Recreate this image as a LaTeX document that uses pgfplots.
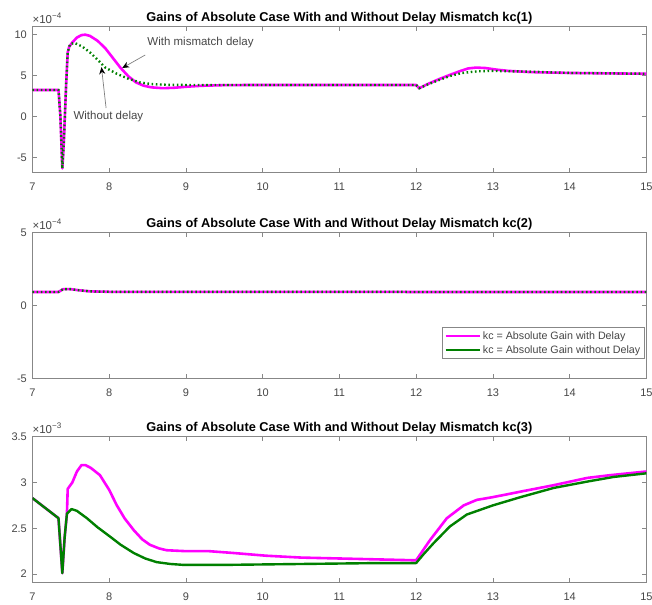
\documentclass[border=0pt]{standalone}
\usepackage{fontspec}
\setmainfont{Liberation Sans}
\usepackage{pgfplots}
\pgfplotsset{compat=1.18}
\usetikzlibrary{arrows.meta}

\definecolor{kcMag}{RGB}{255,0,255}
\definecolor{kcGreen}{RGB}{0,128,0}
\definecolor{axgray}{RGB}{135,135,135}
\definecolor{lblgray}{RGB}{70,70,70}

\pgfplotsset{
  panel/.style={
    scale only axis, width=614pt, height=145.6pt,
    anchor=south west,
    clip mode=individual,
    xmin=7, xmax=15, xtick={7,...,15},
    axis line style={axgray, line width=0.7pt},
    tick style={axgray, line width=0.7pt},
    major tick length=4.5pt,
    tick align=inside,
    ticklabel style={font=\fontsize{11}{13}\selectfont, text=lblgray},
    xticklabel style={anchor=base, yshift=-18.2pt},
    yticklabel style={xshift=-2pt},
    /pgf/number format/assume math mode=true,
    scaled ticks=false,
    every axis title/.style={at={(0.5,1)}, anchor=base, yshift=4.8pt,
                 font=\bfseries\fontsize{12.8}{15}\selectfont},
  },
  withdelay/.style={kcMag, line width=2.6pt, line join=round},
  nodelay/.style={kcGreen, line width=2.4pt, dash pattern=on 1.6pt off 2.6pt},
  nodelaysolid/.style={kcGreen, line width=2.4pt, line join=round},
}

% exponent label shown above the upper-left corner of each panel
\newcommand{\expolabel}[1]{%
  \node[anchor=base west, inner sep=0pt, text=lblgray,
        font=\fontsize{11.5}{13}\selectfont]
    at (rel axis cs:0,1) [yshift=3.5pt] {×10\textsuperscript{#1}};}

\begin{document}
\begin{tikzpicture}
\useasboundingbox (0,0) rectangle (652pt,604pt);

% ---------------- kc(1), values in units of 1e-4 ----------------
\begin{axis}[panel, at={(32.4pt,431.7pt)},
  ymin=-6.77, ymax=10.92, ytick={-5,0,5,10},
  title={Gains of Absolute Case With and Without Delay Mismatch kc(1)}]
\addplot[withdelay] coordinates {
 (7,3.23) (7.34,3.23) (7.365,0) (7.39,-6.3) (7.41,-3) (7.44,4) (7.46,7.8)
 (7.48,8.5) (7.52,9.0) (7.58,9.6) (7.64,9.9) (7.69,9.95) (7.75,9.8)
 (7.85,9.2) (7.95,8.3) (8.05,7.1) (8.15,5.9) (8.25,4.9) (8.35,4.15)
 (8.45,3.75) (8.55,3.55) (8.7,3.45) (8.85,3.5) (9.0,3.62) (9.2,3.74)
 (9.5,3.82) (10,3.84) (12,3.84) (12.04,3.44) (12.15,3.95) (12.3,4.55)
 (12.45,5.1) (12.58,5.55) (12.68,5.85) (12.78,5.95) (12.9,5.9)
 (13.05,5.7) (13.2,5.55) (13.5,5.4) (14,5.3) (14.5,5.25) (15,5.2)};
\addplot[nodelay] coordinates {
 (7,3.23) (7.34,3.23) (7.365,0) (7.39,-6.3) (7.41,-3) (7.44,4) (7.46,7.8)
 (7.49,8.8) (7.55,8.95) (7.65,8.5) (7.75,7.8) (7.85,6.9) (7.95,5.95)
 (8.1,5.2) (8.25,4.6) (8.4,4.15) (8.55,3.95) (8.75,3.86) (9,3.84)
 (12,3.84) (12.04,3.44) (12.15,3.9) (12.3,4.45) (12.45,4.95) (12.6,5.3)
 (12.8,5.5) (13.0,5.55) (13.5,5.45) (14,5.3) (14.5,5.25) (15,5.2)};
\expolabel{−4}
\node[text=lblgray, font=\fontsize{11.5}{13}\selectfont]
  at (axis cs:9.19,8.94) {With mismatch delay};
\draw[gray, line width=0.7pt, -{Stealth[length=7pt,width=6pt,color=black]}]
  (axis cs:8.47,7.48) -- (axis cs:8.17,5.9);
\node[text=lblgray, font=\fontsize{11.5}{13}\selectfont]
  at (axis cs:7.99,0.0) {Without delay};
\draw[gray, line width=0.7pt, -{Stealth[length=7pt,width=6pt,color=black]}]
  (axis cs:7.96,1.04) -- (axis cs:7.9,6.0);
\end{axis}

% ---------------- kc(2), values in units of 1e-4 ----------------
\begin{axis}[panel, at={(32.4pt,225.7pt)},
  ymin=-5, ymax=5, ytick={-5,0,5},
  title={Gains of Absolute Case With and Without Delay Mismatch kc(2)},
  legend style={at={(rel axis cs:0.997,0.132)}, anchor=south east,
    draw=axgray, line width=0.6pt, fill=white,
    font=\fontsize{10.7}{12}\selectfont, text=lblgray,
    inner sep=2pt, row sep=1pt, cells={anchor=west}},
  legend image code/.code={\draw[#1] (0pt,0pt) -- (34pt,0pt);}]
\addplot[withdelay, forget plot] coordinates {
 (7,0.93) (7.34,0.93) (7.4,1.12) (7.5,1.12) (7.6,1.05) (7.75,0.97)
 (8,0.94) (12,0.93) (15,0.93)};
\addplot[nodelay, forget plot] coordinates {
 (7,0.93) (7.34,0.93) (7.4,1.12) (7.5,1.12) (7.6,1.05) (7.75,0.97)
 (8,0.94) (12,0.93) (15,0.93)};
\addlegendimage{kcMag, line width=2.6pt}
\addlegendentry{kc = Absolute Gain with Delay}
\addlegendimage{kcGreen, line width=2.6pt}
\addlegendentry{kc = Absolute Gain without Delay}
\expolabel{−4}
\end{axis}

% ---------------- kc(3), values in units of 1e-3 ----------------
\begin{axis}[panel, at={(32.4pt,21.7pt)},
  ymin=1.91, ymax=3.5, ytick={2,2.5,3,3.5},
  title={Gains of Absolute Case With and Without Delay Mismatch kc(3)}]
\addplot[withdelay] coordinates {
 (7,2.83) (7.34,2.61) (7.39,2.01) (7.42,2.4) (7.45,2.66) (7.46,2.93)
 (7.52,3.0) (7.58,3.12) (7.64,3.19) (7.69,3.19) (7.76,3.16) (7.88,3.08)
 (8.0,2.92) (8.1,2.75) (8.2,2.61) (8.32,2.48) (8.43,2.38) (8.53,2.32)
 (8.65,2.28) (8.75,2.26) (9.0,2.25) (9.3,2.25) (9.62,2.23) (10.05,2.2)
 (10.5,2.18) (11,2.17) (11.5,2.16) (12,2.15) (12.18,2.37) (12.4,2.61)
 (12.62,2.75) (12.79,2.81) (13.0,2.84) (13.36,2.90) (13.79,2.97)
 (14.23,3.05) (14.53,3.08) (15,3.12)};
\addplot[nodelaysolid] coordinates {
 (7,2.83) (7.34,2.61) (7.39,2.01) (7.42,2.4) (7.45,2.66) (7.51,2.71)
 (7.58,2.69) (7.71,2.61) (7.85,2.51) (8.01,2.41) (8.15,2.32) (8.32,2.23)
 (8.47,2.17) (8.62,2.13) (8.8,2.11) (8.97,2.10) (9.5,2.10) (10.5,2.11)
 (11.5,2.12) (12,2.12) (12.1,2.22) (12.23,2.34) (12.44,2.52) (12.66,2.65)
 (13.0,2.75) (13.36,2.84) (13.79,2.94) (14.23,3.01) (14.57,3.06) (15,3.10)};
\expolabel{−3}
\end{axis}
\end{tikzpicture}
\end{document}
